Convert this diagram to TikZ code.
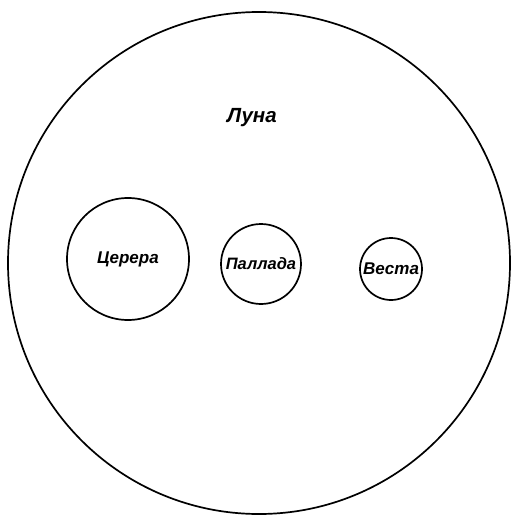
\documentclass[tikz,border=0pt]{standalone}
\usepackage{fontspec}
\setmainfont{Liberation Sans}
\usetikzlibrary{positioning}

\begin{document}
\begin{tikzpicture}[
  x=1pt, y=-1pt,
  body/.style={circle, draw, line width=1.7pt, inner sep=0pt},
  bodytext/.style={font=\fontsize{17}{19}\selectfont\bfseries\itshape}
]
% Frame: 1 unit = 1 pixel of the plate
\useasboundingbox (0,0) rectangle (512,516);

% The Moon
\node[body, minimum size=502pt] (moon) at (259,263) {};
\node[bodytext, font=\fontsize{20.5}{22}\selectfont\bfseries\itshape] (moonlabel) at (252,118) {Луна};

% Ceres, Pallas, Vesta to the same scale
\node[body, minimum size=122pt, bodytext] (ceres) at (128,259) {Церера};
\node[body, minimum size=80pt, bodytext, font=\fontsize{16.5}{18}\selectfont\bfseries\itshape] (pallas) at (261,264) {Паллада};
\node[body, minimum size=62pt, bodytext] (vesta) at (391,269) {Веста};
\end{tikzpicture}
\end{document}
